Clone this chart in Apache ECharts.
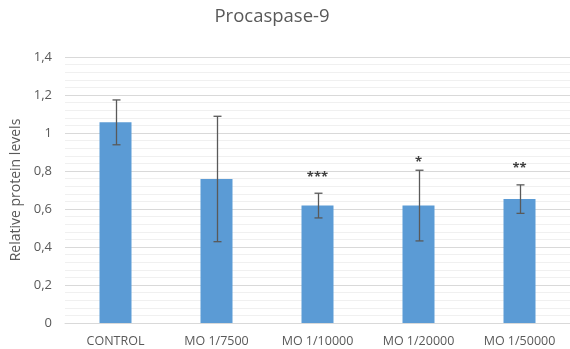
<!DOCTYPE html>
<html><head><meta charset="utf-8">
<script src="https://cdn.jsdelivr.net/npm/echarts@6/dist/echarts.min.js"></script>
<style>html,body{margin:0;padding:0;background:#fff}#c{width:570px;height:349px}</style>
</head><body><div id="c"></div>
<script>
var categories = ['CONTROL', 'MO 1/7500', 'MO 1/10000', 'MO 1/20000', 'MO 1/50000'];
var values = [1.056, 0.758, 0.618, 0.618, 0.652];
var errors = [0.118, 0.33, 0.065, 0.186, 0.075];
var stars = ['', '', '***', '*', '**'];
var starY = [null, null, 0.77, 0.85, 0.82];
var yTicks = [0, 0.2, 0.4, 0.6, 0.8, 1, 1.2, 1.4];

var chart = echarts.init(document.getElementById('c'));
var txt = '#595959';
var font = 'Open Sans';
chart.setOption({
  animation: false,
  title: {text: 'Procaspase-9', left: 267, textAlign: 'center', top: 2,
    textStyle: {fontFamily: font, fontSize: 18.5, fontWeight: 'normal', color: txt}},
  grid: {left: 65, top: 57, width: 515, height: 266},
  xAxis: {type: 'category', data: categories,
    axisLine: {lineStyle: {color: '#d9d9d9'}}, axisTick: {show: false},
    axisLabel: {color: txt, fontFamily: font, fontSize: 12.5, margin: 12}},
  yAxis: {type: 'value', min: 0, max: 1.4, interval: 0.2,
    name: 'Relative protein levels', nameLocation: 'middle', nameGap: 42,
    nameTextStyle: {color: txt, fontFamily: font, fontSize: 14},
    axisLine: {show: false}, axisTick: {show: false},
    axisLabel: {color: txt, fontFamily: font, fontSize: 13, margin: 13,
      formatter: function (v) { return String(+v.toFixed(1)).replace('.', ','); }},
    splitLine: {lineStyle: {color: '#d9d9d9'}},
    minorTick: {show: false, splitNumber: 5},
    minorSplitLine: {show: true, lineStyle: {color: '#f0f0f0'}}},
  series: [
    {type: 'bar', data: values, barWidth: 32, itemStyle: {color: '#5b9bd5'}},
    {type: 'custom', data: values.map(function (v, i) { return [i, v - errors[i], v + errors[i]]; }),
      z: 10,
      renderItem: function (params, api) {
        var lo = api.coord([api.value(0), api.value(1)]);
        var hi = api.coord([api.value(0), api.value(2)]);
        var x = Math.round(lo[0]) + 0.5, w = 4;
        var st = {stroke: '#595959', lineWidth: 1.3};
        return {type: 'group', children: [
          {type: 'line', shape: {x1: x, y1: lo[1], x2: x, y2: hi[1]}, style: st},
          {type: 'line', shape: {x1: x - w, y1: lo[1], x2: x + w, y2: lo[1]}, style: st},
          {type: 'line', shape: {x1: x - w, y1: hi[1], x2: x + w, y2: hi[1]}, style: st}
        ]};
      }},
    {type: 'custom', data: starY.map(function (y, i) { return [i, y === null ? 0 : y, stars[i]]; }),
      z: 11,
      renderItem: function (params, api) {
        var s = stars[params.dataIndex];
        if (!s) return null;
        var p = api.coord([api.value(0), api.value(1)]);
        return {type: 'text', style: {text: s, x: p[0], y: p[1] + 1, align: 'center', verticalAlign: 'middle',
          fill: '#404040', font: 'bold 13px "Open Sans"'}};
      }}
  ]
});
</script></body></html>
